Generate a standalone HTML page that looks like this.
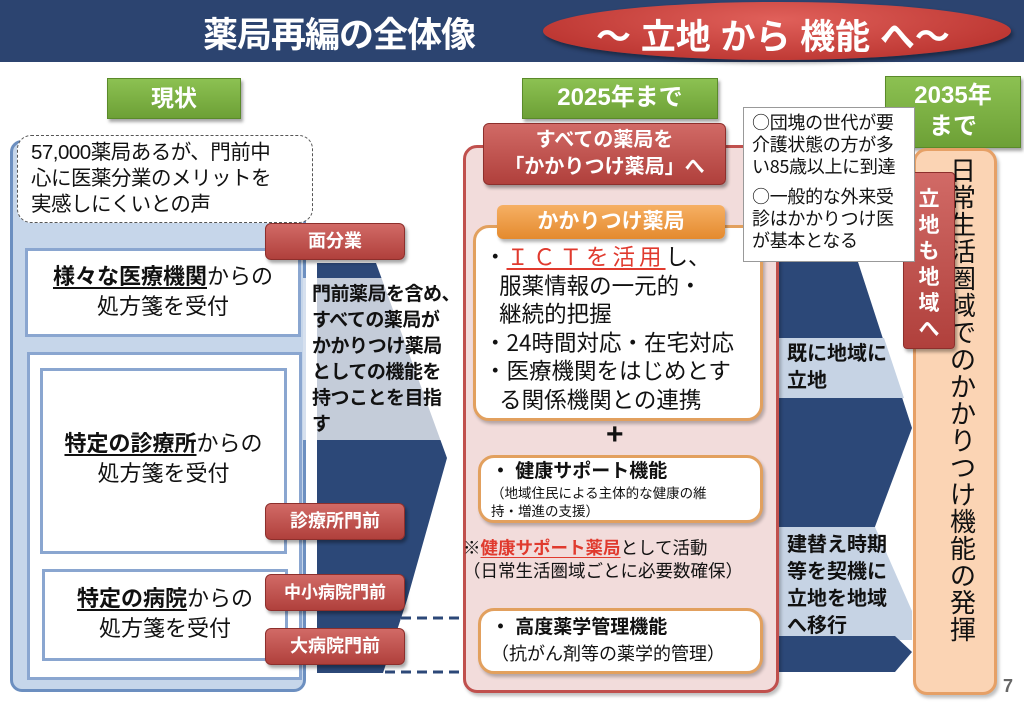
<!DOCTYPE html>
<html><head><meta charset="utf-8">
<style>
*{margin:0;padding:0;box-sizing:border-box}
body{width:1024px;height:705px;position:relative;overflow:hidden;background:#fff;font-family:"Liberation Sans","Noto Sans CJK JP",sans-serif;color:#111}
.a{position:absolute}
.jp{font-family:"Noto Sans CJK JP","Liberation Sans",sans-serif}
.green{background:linear-gradient(#8cc152,#6da036);color:#fff;font-weight:bold;text-align:center;border:1px solid #5a8a2a;box-shadow:2px 3px 3px rgba(0,0,0,.35)}
.tag{background:linear-gradient(#d16a66,#b0403c);color:#fff;font-weight:bold;text-align:center;border-radius:6px;box-shadow:2px 3px 3px rgba(0,0,0,.35);border:1px solid #8d2f2c}
.wb{background:#fff;border:3px solid #8aa6d0}
.ob{background:#fff;border:3px solid #e2a05e;border-radius:16px;box-shadow:2px 3px 3px rgba(0,0,0,.25)}
.b{font-weight:bold}
u{text-decoration:underline;text-underline-offset:3px}
</style></head><body>
<div class="a" style="left:0;top:0;width:1024px;height:62px;background:#2c4470"></div>
<div class="a b" style="left:203px;top:7px;font-size:35px;color:#fff;letter-spacing:-1px;white-space:nowrap">薬局再編の全体像</div>
<div class="a" style="left:543px;top:2px;width:468px;height:58px;border-radius:50%;background:radial-gradient(ellipse at 50% 30%,#e0605a,#b22a26);box-shadow:2px 3px 4px rgba(0,0,0,.4)"></div>
<div class="a b" style="left:596px;top:9px;font-size:35px;color:#fff;letter-spacing:0px;white-space:nowrap">～ 立地 から 機能 へ～</div>

<div class="a green" style="left:107px;top:78px;width:134px;height:41px;font-size:23px;line-height:38px">現状</div>
<div class="a green" style="left:522px;top:78px;width:196px;height:41px;font-size:24px;line-height:38px">2025年まで</div>
<div class="a green" style="left:885px;top:76px;width:136px;height:72px;font-size:24px;line-height:31px;padding-top:3px">2035年<br>まで</div>

<!-- left -->
<div class="a" style="left:10px;top:140px;width:296px;height:552px;background:#c6d6ea;border:3px solid #6c8fc0;border-radius:12px"></div>
<div class="a" style="left:17px;top:135px;width:296px;height:88px;background:#fff;border:1.5px dashed #555;border-radius:14px;font-size:20.5px;line-height:26px;padding:4px 0 0 13px;white-space:nowrap;letter-spacing:-.5px">57,000薬局あるが、門前中<br>心に医薬分業のメリットを<br>実感しにくいとの声</div>
<div class="a wb" style="left:25px;top:248px;width:276px;height:89px;text-align:center;font-size:22px;line-height:30px;padding-top:11px;white-space:nowrap"><u class="b">様々な医療機関</u>からの<br>処方箋を受付</div>
<div class="a wb" style="left:27px;top:352px;width:275px;height:328px"></div>
<div class="a wb" style="left:40px;top:368px;width:247px;height:186px;text-align:center;font-size:22px;line-height:30px;padding-top:58px;white-space:nowrap"><u class="b">特定の診療所</u>からの<br>処方箋を受付</div>
<div class="a wb" style="left:42px;top:569px;width:246px;height:92px;text-align:center;font-size:22px;line-height:30px;padding-top:12px;white-space:nowrap"><u class="b">特定の病院</u>からの<br>処方箋を受付</div>

<svg class="a" style="left:0;top:0" width="1024" height="705">
<polygon points="317,263 376,263 447,458 407,600 383,673 317,673" fill="#2c4878"/>
<rect x="303" y="278" width="165" height="162" fill="#fff" opacity=".72"/>
<line x1="385" y1="618" x2="463" y2="618" stroke="#2c4878" stroke-width="3" stroke-dasharray="10,6"/>
<line x1="385" y1="672" x2="463" y2="672" stroke="#2c4878" stroke-width="3" stroke-dasharray="10,6"/>
<polygon points="770,262 858,262 912,428 870,540 770,540" fill="#2c4878"/>
<polygon points="770,338 884,338 904,398 770,398" fill="#c6d3e4"/>
<polygon points="770,527 875,527 912,611 912,640 770,640" fill="#c6d3e4"/>
<polygon points="770,636 895,636 912,652 895,672 770,672" fill="#2c4878"/>
</svg>

<div class="a tag" style="left:265px;top:223px;width:140px;height:37px;font-size:18px;line-height:35px">面分業</div>
<div class="a tag" style="left:265px;top:503px;width:140px;height:37px;font-size:18px;line-height:35px">診療所門前</div>
<div class="a tag" style="left:265px;top:574px;width:140px;height:37px;font-size:17px;line-height:35px">中小病院門前</div>
<div class="a tag" style="left:265px;top:628px;width:140px;height:37px;font-size:18px;line-height:35px">大病院門前</div>
<div class="a b" style="left:312px;top:282px;font-size:19px;line-height:26px;letter-spacing:-.5px;white-space:nowrap">門前薬局を含め、<br>すべての薬局が<br>かかりつけ薬局<br>としての機能を<br>持つことを目指<br>す</div>

<!-- middle -->
<div class="a" style="left:463px;top:145px;width:316px;height:548px;background:#f2dcdb;border:3px solid #c0504d;border-radius:14px;box-shadow:2px 3px 3px rgba(0,0,0,.25)"></div>
<div class="a tag" style="left:483px;top:123px;width:243px;height:62px;font-size:20px;line-height:27px;padding-top:3px">すべての薬局を<br>「かかりつけ薬局」へ</div>
<div class="a ob jp" style="left:473px;top:225px;width:290px;height:196px;font-size:22.5px;line-height:28.5px;padding:14px 0 0 8px;white-space:nowrap;letter-spacing:0">・<u style="color:#e03a2e;letter-spacing:4px">ＩＣＴを活用</u>し、<br>&nbsp;&nbsp;&nbsp;服薬情報の一元的・<br>&nbsp;&nbsp;&nbsp;継続的把握<br>・24時間対応・在宅対応<br>・医療機関をはじめとす<br>&nbsp;&nbsp;&nbsp;る関係機関との連携</div>
<div class="a" style="left:497px;top:205px;width:228px;height:34px;border-radius:6px;background:linear-gradient(#f6b064,#e48a2e);color:#fff;font-weight:bold;font-size:21px;text-align:center;line-height:33px;box-shadow:2px 3px 3px rgba(0,0,0,.3)">かかりつけ薬局</div>
<div class="a b" style="left:606px;top:420px;font-size:30px;line-height:30px">+</div>
<div class="a ob" style="left:478px;top:455px;width:285px;height:68px;padding:1px 0 0 10px;white-space:nowrap"><div class="b" style="font-size:19px;line-height:26px">・ 健康サポート機能</div><div style="font-size:13.5px;line-height:18px">（地域住民による主体的な健康の維<br>持・増進の支援）</div></div>
<div class="a" style="left:463px;top:537px;font-size:17.5px;line-height:23px;white-space:nowrap">※<u class="b" style="color:#e03a2e">健康サポート薬局</u>として活動<br>（日常生活圏域ごとに必要数確保）</div>
<div class="a ob" style="left:478px;top:608px;width:285px;height:66px;padding:3px 0 0 10px;white-space:nowrap"><div class="b" style="font-size:19px;line-height:28px">・ 高度薬学管理機能</div><div style="font-size:18px;line-height:25px">（抗がん剤等の薬学的管理）</div></div>

<div class="a b" style="left:787px;top:341px;font-size:20px;line-height:27px;white-space:nowrap">既に地域に<br>立地</div>
<div class="a b" style="left:787px;top:532px;font-size:20px;line-height:27px;white-space:nowrap">建替え時期<br>等を契機に<br>立地を地域<br>へ移行</div>

<!-- right -->
<div class="a" style="left:913px;top:148px;width:84px;height:547px;background:#fbd4b4;border:3px solid #e6a066;border-radius:14px;box-shadow:2px 3px 3px rgba(0,0,0,.25)"></div>
<div class="a" style="left:944px;top:158px;width:38px;font-size:26px;line-height:27px;text-align:center">日<br>常<br>生<br>活<br>圏<br>域<br>で<br>の<br>か<br>か<br>り<br>つ<br>け<br>機<br>能<br>の<br>発<br>揮</div>
<div class="a tag" style="left:903px;top:172px;width:52px;height:177px;font-size:21px;line-height:26px;padding:14px 0 0 0;border-radius:4px">立<br>地<br>も<br>地<br>域<br>へ</div>
<div class="a jp" style="left:743px;top:107px;width:172px;height:155px;background:#fff;border:1px solid #999;font-size:18px;line-height:22px;padding:3px 0 0 8px;white-space:nowrap;letter-spacing:-.3px">○団塊の世代が要<br>介護状態の方が多<br>い85歳以上に到達<div style="height:8px"></div>○一般的な外来受<br>診はかかりつけ医<br>が基本となる</div>
<div class="a b" style="left:1003px;top:676px;font-size:18px;color:#666">7</div>
</body></html>
